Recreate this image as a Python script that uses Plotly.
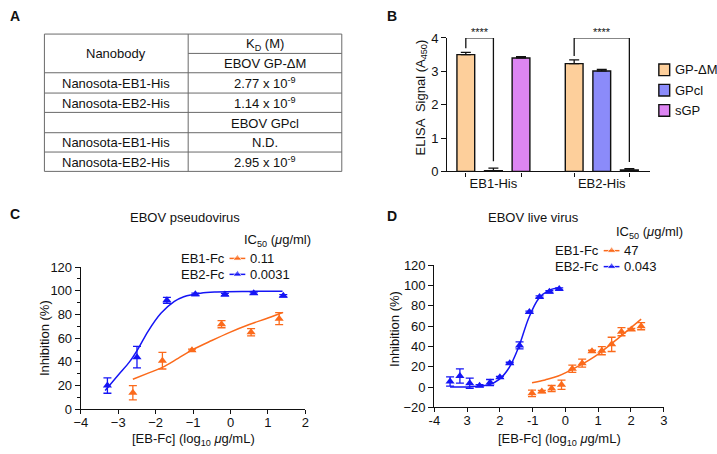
import plotly.graph_objects as go

W, H = 717, 454


def X(px):
    return px / W


def Y(py):
    return 1 - py / H


FONT = "Liberation Sans, Arial, Helvetica, sans-serif"
BLACK = "#111111"

# ---------------- Panel A: table ----------------
table_header_left = "Nanobody"
table_header_right = ["K<sub>D</sub> (M)", "EBOV GP-ΔM"]
table_names = ["Nanosota-EB1-His", "Nanosota-EB2-His", "", "Nanosota-EB1-His", "Nanosota-EB2-His"]
table_values = ["2.77 x 10<sup>-9</sup>", "1.14 x 10<sup>-9</sup>", "EBOV GPcl", "N.D.",
                "2.95 x 10<sup>-9</sup>"]

# ---------------- Panel B: ELISA bars ----------------
b_groups = ["EB1-His", "EB2-His"]
b_series = ["GP-ΔM", "GPcl", "sGP"]
b_colors = ["#FDCF9B", "#8B8BFA", "#DD85F2"]
b_gp_dm = [3.50, 3.23]
b_gp_dm_err = [0.07, 0.11]
b_gpcl = [0.02, 3.01]
b_gpcl_err = [0.08, 0.05]
b_sgp = [3.40, 0.04]
b_sgp_err = [0.04, 0.04]
b_comparisons = [(0, 0, 1, "****"), (1, 0, 2, "****")]  # group, series a, series b, label
b_bracket_top = 4.0

# ---------------- Panel C: pseudovirus ----------------
c_eb2_x = [-3.29, -2.50, -1.70, -0.94, -0.15, 0.62, 1.41]
c_eb2_y = [20.0, 44.0, 92.0, 97.0, 96.8, 98.0, 95.8]
c_eb2_err = [6.5, 9.0, 2.5, 1.0, 1.0, 1.0, 1.0]
c_eb2_fit_x = [-3.35, -3.0, -2.7, -2.47, -2.2, -1.86, -1.5, -1.25, -0.8, -0.37, 0.5, 1.39]
c_eb2_fit_y = [15.8, 29.0, 40.0, 51.0, 66.0, 81.0, 91.0, 95.0, 98.0, 99.0, 99.5, 99.7]
c_eb1_x = [-2.61, -1.82, -1.03, -0.24, 0.55, 1.30]
c_eb1_y = [14.0, 41.0, 49.8, 71.8, 65.0, 76.5]
c_eb1_err = [6.0, 7.0, 1.0, 3.0, 3.0, 5.0]
c_eb1_fit_x = [-2.61, -2.2, -1.82, -1.4, -1.03, -0.5, -0.02, 0.5, 1.0, 1.39]
c_eb1_fit_y = [25.3, 30.5, 35.4, 43.0, 49.9, 58.0, 64.9, 71.5, 77.0, 81.7]
c_ic50 = ["0.11", "0.0031"]

# ---------------- Panel D: live virus ----------------
d_eb2_x = [-3.52, -3.22, -2.92, -2.62, -2.30, -2.00, -1.70, -1.40, -1.10, -0.79, -0.49, -0.19]
d_eb2_y = [5.4, 10.8, 3.8, 1.3, 4.4, 9.5, 23.4, 41.0, 73.8, 88.7, 93.8, 96.6]
d_eb2_err = [4.5, 7.0, 5.0, 1.0, 3.0, 1.0, 1.0, 3.5, 1.0, 1.0, 1.0, 1.0]
d_eb2_fit_x = [-3.52, -2.92, -2.32, -2.02, -1.72, -1.42, -1.12, -0.82, -0.52, -0.17]
d_eb2_fit_y = [0.0, 0.3, 2.5, 7.5, 19.0, 40.0, 68.0, 87.0, 95.0, 98.0]
d_eb1_x = [-1.02, -0.72, -0.42, -0.12, 0.21, 0.51, 0.81, 1.11, 1.41, 1.71, 2.01, 2.31]
d_eb1_y = [-6.2, -4.4, -1.5, 2.2, 18.0, 23.5, 35.2, 35.8, 42.0, 54.5, 56.7, 59.9]
d_eb1_err = [3.2, 1.0, 3.0, 4.5, 3.5, 4.0, 1.0, 4.0, 7.0, 4.0, 1.0, 3.5]
d_eb1_fit_x = [-1.02, -0.62, -0.22, 0.38, 0.98, 1.58, 2.31]
d_eb1_fit_y = [4.1, 7.0, 10.8, 20.3, 32.0, 47.2, 66.8]
d_ic50 = ["47", "0.043"]
d_xtick_vals = [-4, -3, -2, -1, 0, 1, 2, 3]
d_xtick_text = ["-4", "3", "2", "-1", "0", "1", "2", "3"]

fc_names = ["EB1-Fc", "EB2-Fc"]
fc_colors = ["#FB6A1B", "#1515F5"]

fig = go.Figure()
shapes = []
ann = []


def text(x, y, s, size=13, xanchor="center", yanchor="middle", color=BLACK, angle=0, bold=False):
    if bold:
        s = "<b>" + s + "</b>"
    ann.append(dict(x=X(x), y=Y(y), xref="paper", yref="paper", text=s, showarrow=False,
                    xanchor=xanchor, yanchor=yanchor, textangle=angle,
                    font=dict(family=FONT, size=size, color=color)))


# ---- Panel labels
text(8, 9, "A", 14, bold=True)
text(391, 9, "B", 14, bold=True)
text(8, 214, "C", 14, bold=True)
text(391, 216, "D", 14, bold=True)

# ---- Panel A table
tl, tr, tmid = 38, 340, 184
row_edges = [28, 48, 68, 89, 109, 130, 150, 170]
LC = "#6a6a6a"
shapes.append(dict(type="rect", xref="paper", yref="paper", x0=X(tl), x1=X(tr), y0=Y(row_edges[-1]),
                   y1=Y(row_edges[0]), line=dict(color=LC, width=1)))
shapes.append(dict(type="line", xref="paper", yref="paper", x0=X(tmid), x1=X(tmid), y0=Y(row_edges[-1]),
                   y1=Y(row_edges[0]), line=dict(color=LC, width=1)))
shapes.append(dict(type="line", xref="paper", yref="paper", x0=X(tmid), x1=X(tr), y0=Y(row_edges[1]),
                   y1=Y(row_edges[1]), line=dict(color=LC, width=1)))
for e in row_edges[2:-1]:
    shapes.append(dict(type="line", xref="paper", yref="paper", x0=X(tl), x1=X(tr), y0=Y(e),
                       y1=Y(e), line=dict(color=LC, width=1)))
lcx, rcx = (tl + tmid) / 2, (tmid + tr) / 2
text(lcx, (row_edges[0] + row_edges[2]) / 2, table_header_left)
for i, s in enumerate(table_header_right):
    text(rcx, (row_edges[i] + row_edges[i + 1]) / 2 + 0.5, s)
for i, (n, v) in enumerate(zip(table_names, table_values)):
    yc = (row_edges[i + 2] + row_edges[i + 3]) / 2 + 0.5
    if n:
        text(lcx, yc, n)
    text(rcx, yc, v)

# ---- Panel B bars
b_vals = [b_gp_dm, b_gpcl, b_sgp]
b_errs = [b_gp_dm_err, b_gpcl_err, b_sgp_err]
bargap = 0.236
slot = (1 - bargap) / 3
for k, (name, col, vals, errs) in enumerate(zip(b_series, b_colors, b_vals, b_errs)):
    fig.add_trace(go.Bar(x=list(range(len(b_groups))), y=vals, name=name, marker=dict(color=col,
                         line=dict(color=BLACK, width=1.4)),
                         error_y=dict(type="data", array=errs, arrayminus=[0] * len(errs), symmetric=False,
                                      color=BLACK, thickness=1.3, width=5),
                         xaxis="x", yaxis="y", showlegend=False))
for g, a, bb, lab in b_comparisons:
    xa = g + (a - 1) * slot
    xb = g + (bb - 1) * slot
    ya = b_vals[a][g] + b_errs[a][g] + 0.12
    yb = b_vals[bb][g] + b_errs[bb][g] + 0.2
    shapes.append(dict(type="path", xref="x", yref="y",
                       path=f"M {xa},{ya} L {xa},{b_bracket_top} L {xb},{b_bracket_top} L {xb},{yb}",
                       line=dict(color=BLACK, width=1.3)))
    ann.append(dict(x=(xa + xb) / 2, y=b_bracket_top, xref="x", yref="y", text=lab, showarrow=False,
                    yanchor="bottom", yshift=-2, font=dict(family=FONT, size=11, color=BLACK)))
b_minor_ticks = [g + s * slot for g in range(len(b_groups)) for s in (-1, 1)]

# legend for B
for k, (name, col) in enumerate(zip(b_series, b_colors)):
    yc = 65 + 21 * k
    shapes.append(dict(type="rect", xref="paper", yref="paper", x0=X(662), x1=X(673), y0=Y(yc + 6),
                       y1=Y(yc - 6), fillcolor=col, line=dict(color=BLACK, width=1.4)))
    text(676, yc, name, 13, xanchor="left")

text(421, 94, "ELISA  Signal (A<sub>450</sub>)", 13, angle=-90)

# ---- Panel C
for xs, ys, es, fx, fy, col in [
    (c_eb1_x, c_eb1_y, c_eb1_err, c_eb1_fit_x, c_eb1_fit_y, fc_colors[0]),
    (c_eb2_x, c_eb2_y, c_eb2_err, c_eb2_fit_x, c_eb2_fit_y, fc_colors[1]),
]:
    fig.add_trace(go.Scatter(x=fx, y=fy, mode="lines", line=dict(color=col, width=1.5, shape="spline"),
                             xaxis="x2", yaxis="y2", showlegend=False, hoverinfo="skip"))
    fig.add_trace(go.Scatter(x=xs, y=ys, mode="markers",
                             marker=dict(symbol="triangle-up", size=8, color=col),
                             error_y=dict(type="data", array=es, color=col, thickness=1.3, width=4),
                             xaxis="x2", yaxis="y2", showlegend=False))

# ---- Panel D
for xs, ys, es, fx, fy, col in [
    (d_eb1_x, d_eb1_y, d_eb1_err, d_eb1_fit_x, d_eb1_fit_y, fc_colors[0]),
    (d_eb2_x, d_eb2_y, d_eb2_err, d_eb2_fit_x, d_eb2_fit_y, fc_colors[1]),
]:
    fig.add_trace(go.Scatter(x=fx, y=fy, mode="lines", line=dict(color=col, width=1.5, shape="spline"),
                             xaxis="x3", yaxis="y3", showlegend=False, hoverinfo="skip"))
    fig.add_trace(go.Scatter(x=xs, y=ys, mode="markers",
                             marker=dict(symbol="triangle-up", size=8, color=col),
                             error_y=dict(type="data", array=es, color=col, thickness=1.3, width=4),
                             xaxis="x3", yaxis="y3", showlegend=False))

# ---- Titles and axis titles C/D
text(181, 218, "EBOV pseudovirus", 13)
text(535, 218, "EBOV live virus", 13)
text(38, 342, "Inhibition (%)", 13, angle=-90)
text(394, 333, "Inhibition (%)", 13, angle=-90)
xt = "[EB-Fc] (log<sub>10</sub> <i>μ</i>g/mL)"
text(189, 447, xt, 13)
text(561, 447, xt, 13)

# ---- legends C/D (drawn on a full-page overlay axis in pixel units)
for (icx, icy, lx, ly0, vals) in [(275, 241, 226, 260, c_ic50), (653, 233, 606, 252, d_ic50)]:
    text(icx, icy, "IC<sub>50</sub> (<i>μ</i>g/ml)", 13)
    for i, (nm, col, v) in enumerate(zip(fc_names, fc_colors, vals)):
        yy = ly0 + 16.5 * i
        text(lx - 3, yy, nm, 13, xanchor="right")
        fig.add_trace(go.Scatter(x=[lx, lx + 8, lx + 16], y=[yy, yy, yy], mode="lines+markers",
                                 line=dict(color=col, width=1.5),
                                 marker=dict(symbol="triangle-up", size=[0, 8, 0], color=col),
                                 xaxis="x4", yaxis="y4", showlegend=False, hoverinfo="skip"))
        text(lx + 19, yy, v, 13, xanchor="left")

axis_common = dict(showline=True, linecolor=BLACK, linewidth=1.3, ticks="outside", ticklen=5,
                   tickwidth=1.3, tickcolor=BLACK, showgrid=False, zeroline=False,
                   tickfont=dict(family=FONT, size=13, color=BLACK))
xaxis_common = {**axis_common, "ticklen": 4, "ticklabelstandoff": -3}

fig.update_layout(
    width=W, height=H, autosize=False,
    margin=dict(l=0, r=0, t=0, b=0),
    paper_bgcolor="white", plot_bgcolor="rgba(0,0,0,0)",
    barmode="group", bargap=bargap, bargroupgap=0.356,
    showlegend=False,
    xaxis=dict(domain=[X(447), X(653)], range=[-0.427, 1.445], tickvals=[0, 1], ticktext=b_groups,
               **{**axis_common, "ticks": ""}, anchor="y",
               minor=dict(tickmode="array", tickvals=b_minor_ticks, ticks="outside", ticklen=4,
                          tickwidth=1.2, tickcolor=BLACK)),
    yaxis=dict(domain=[Y(170), Y(32)], range=[0, 4], dtick=1, **axis_common, anchor="x"),
    xaxis2=dict(domain=[X(75), X(303)], range=[-4, 2], dtick=1, **xaxis_common, anchor="y2"),
    yaxis2=dict(domain=[Y(416), Y(269)], range=[0, 120], dtick=20, **axis_common, anchor="x2",
                minor=dict(dtick=10, ticks="outside", ticklen=3, tickwidth=1.2, tickcolor=BLACK)),
    xaxis3=dict(domain=[X(434), X(667)], range=[-4, 3], tickvals=d_xtick_vals, ticktext=d_xtick_text,
                **xaxis_common, anchor="y3"),
    yaxis3=dict(domain=[Y(414), Y(267)], range=[-20, 120], dtick=20, **axis_common, anchor="x3"),
    xaxis4=dict(domain=[0, 1], range=[0, W], visible=False, anchor="y4"),
    yaxis4=dict(domain=[0, 1], range=[H, 0], visible=False, anchor="x4"),
    shapes=shapes,
    annotations=ann,
    font=dict(family=FONT, size=13, color=BLACK),
)

fig.write_html("out.html", config={"displayModeBar": False},
               post_script="document.body.style.margin='0';document.body.style.overflow='hidden';")
